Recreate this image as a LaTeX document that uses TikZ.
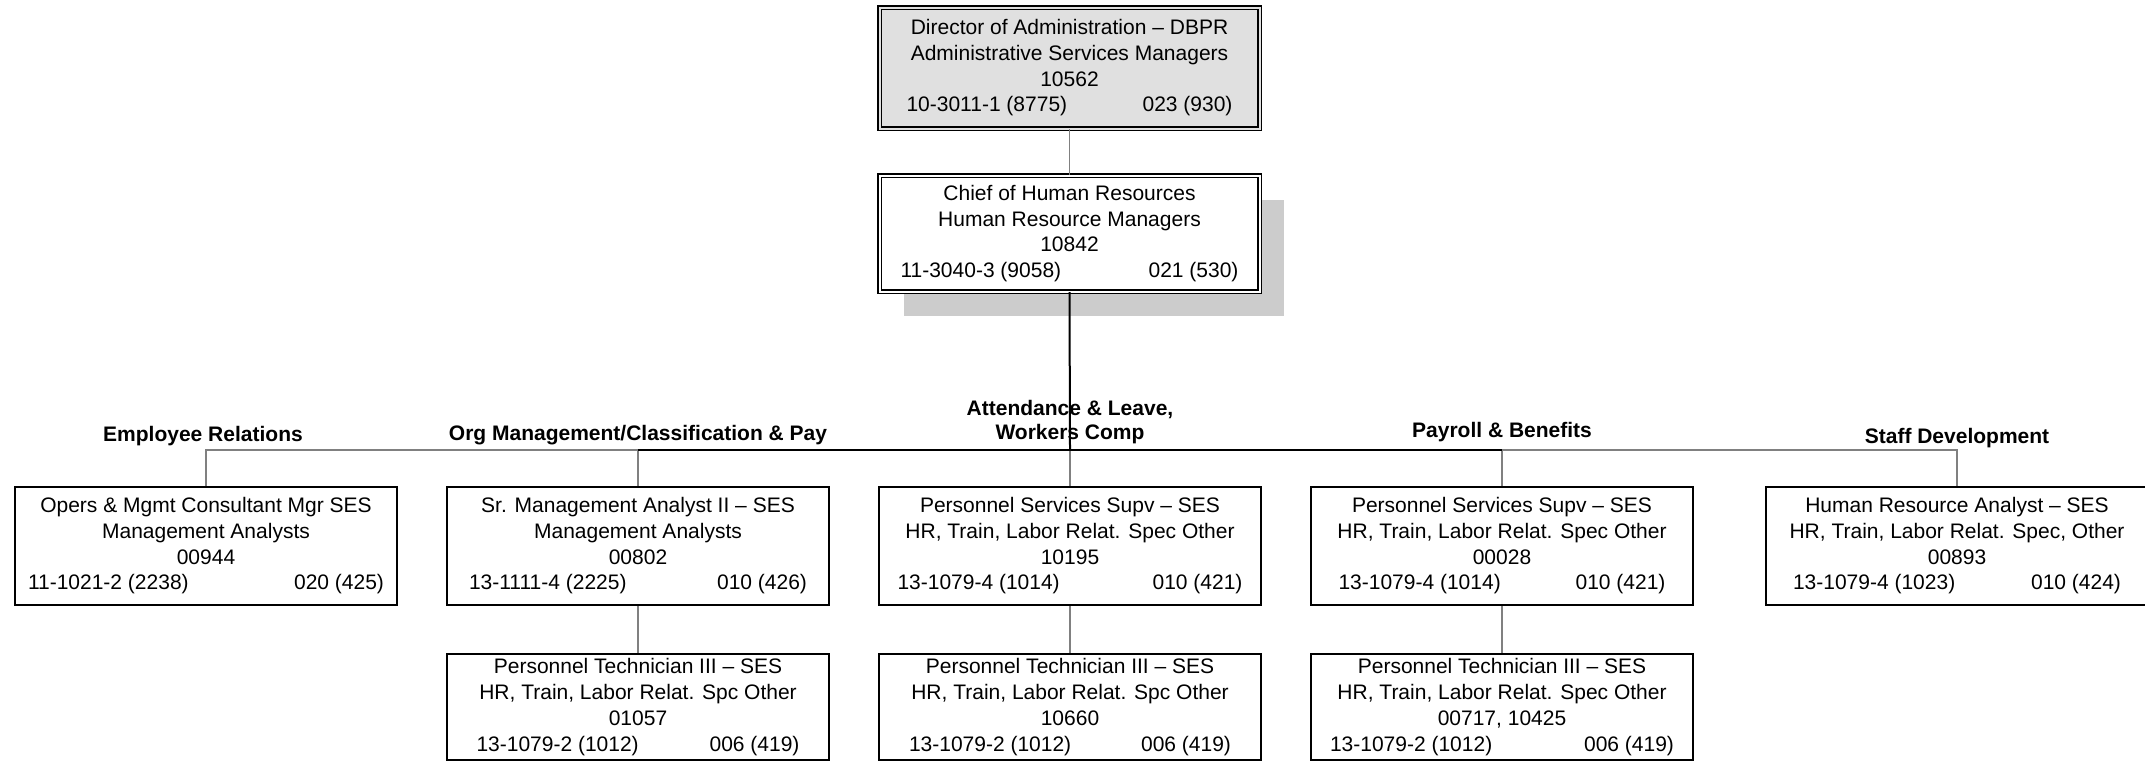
\documentclass[tikz,border=0pt]{standalone}
\usepackage{fontspec}
\setmainfont{Liberation Sans}
\usepackage{tikz}
\usetikzlibrary{positioning,shadows}
\definecolor{dirgray}{gray}{0.88}
\definecolor{shadowgray}{gray}{0.8}
\definecolor{linkgray}{gray}{0.5}
\newcommand{\codes}[3]{\makebox[#1]{#2\hfill #3}}

\begin{document}
\begin{tikzpicture}[x=0.5pt, y=-0.5pt, font=\fontsize{10.5}{12.85}\selectfont,
  posbox/.style={draw, line width=1pt, fill=white, align=center, minimum width=191pt, minimum height=59pt, inner sep=0pt},
  subbox/.style={posbox, minimum height=53pt},
  headbox/.style={posbox, double, double distance=1pt, line width=0.7pt, minimum width=190pt},
  unit/.style={font=\fontsize{10.5}{12}\selectfont\bfseries, anchor=base, inner sep=0pt},
  link/.style={draw=linkgray, line width=0.75pt},
  trunk/.style={draw=black, line width=1pt}]
\useasboundingbox (0,0) rectangle (2145,762);
%top
\node[headbox, fill=dirgray, double=dirgray, minimum height=60.5pt] (dir) at (1069.5,68) {Director of Administration – DBPR\\Administrative Services Managers\\10562\\\codes{163pt}{10-3011-1 (8775)}{023 (930)}};
\node[headbox, minimum height=58pt, drop shadow={shadow xshift=12pt, shadow yshift=-12pt, fill=shadowgray, opacity=1}] (chief) at (1069.5,233.5) {Chief of Human Resources\\Human Resource Managers\\10842\\\codes{169pt}{11-3040-3 (9058)}{021 (530)}};
%sections
\node[posbox] (er) at (206,546) {Opers \& Mgmt Consultant Mgr SES\\Management Analysts\\00944\\\codes{178pt}{11-1021-2 (2238)}{020 (425)}};
\node[posbox] (om) at (638,546) {Sr. Management Analyst II – SES\\Management Analysts\\00802\\\codes{169pt}{13-1111-4 (2225)}{010 (426)}};
\node[posbox] (al) at (1070,546) {Personnel Services Supv – SES\\HR, Train, Labor Relat. Spec Other\\10195\\\codes{172.5pt}{13-1079-4 (1014)}{010 (421)}};
\node[posbox] (pb) at (1502,546) {Personnel Services Supv – SES\\HR, Train, Labor Relat. Spec Other\\00028\\\codes{163.5pt}{13-1079-4 (1014)}{010 (421)}};
\node[posbox] (sd) at (1957,546) {Human Resource Analyst – SES\\HR, Train, Labor Relat. Spec, Other\\00893\\\codes{164pt}{13-1079-4 (1023)}{010 (424)}};
%technicians
\node[subbox, below=23.5pt of om] (om2) {Personnel Technician III – SES\\HR, Train, Labor Relat. Spc Other\\01057\\\codes{161.5pt}{13-1079-2 (1012)}{006 (419)}};
\node[subbox, below=23.5pt of al] (al2) {Personnel Technician III – SES\\HR, Train, Labor Relat. Spc Other\\10660\\\codes{161pt}{13-1079-2 (1012)}{006 (419)}};
\node[subbox, below=23.5pt of pb] (pb2) {Personnel Technician III – SES\\HR, Train, Labor Relat. Spec Other\\00717, 10425\\\codes{172pt}{13-1079-2 (1012)}{006 (419)}};
%section names
\node[unit] (erlbl) at (203,441) {Employee Relations};
\node[unit] (omlbl) at (638,440) {Org Management/Classification \& Pay};
\node[unit, align=center] (allbl) at (1070,439) {Attendance \& Leave,\\Workers Comp};
\node[unit] (pblbl) at (1502,437) {Payroll \& Benefits};
\node[unit] (sdlbl) at (1957,443) {Staff Development};
%lines
\coordinate (bus) at (1070,450);
\draw[link] (dir) -- (chief);
\draw[link] (er.north) |- (om.north |- bus);
\draw[link] (sd.north) |- (pb.north |- bus);
\foreach \n in {om,al,pb}{\draw[link] (\n.north) -- (\n.north |- bus);}
\foreach \n in {om,al,pb}{\draw[link] (\n) -- (\n2);}
\draw[trunk] (om.north |- bus) -- (pb.north |- bus);
\draw[trunk] (chief.south) -- (bus);
\end{tikzpicture}
\end{document}
